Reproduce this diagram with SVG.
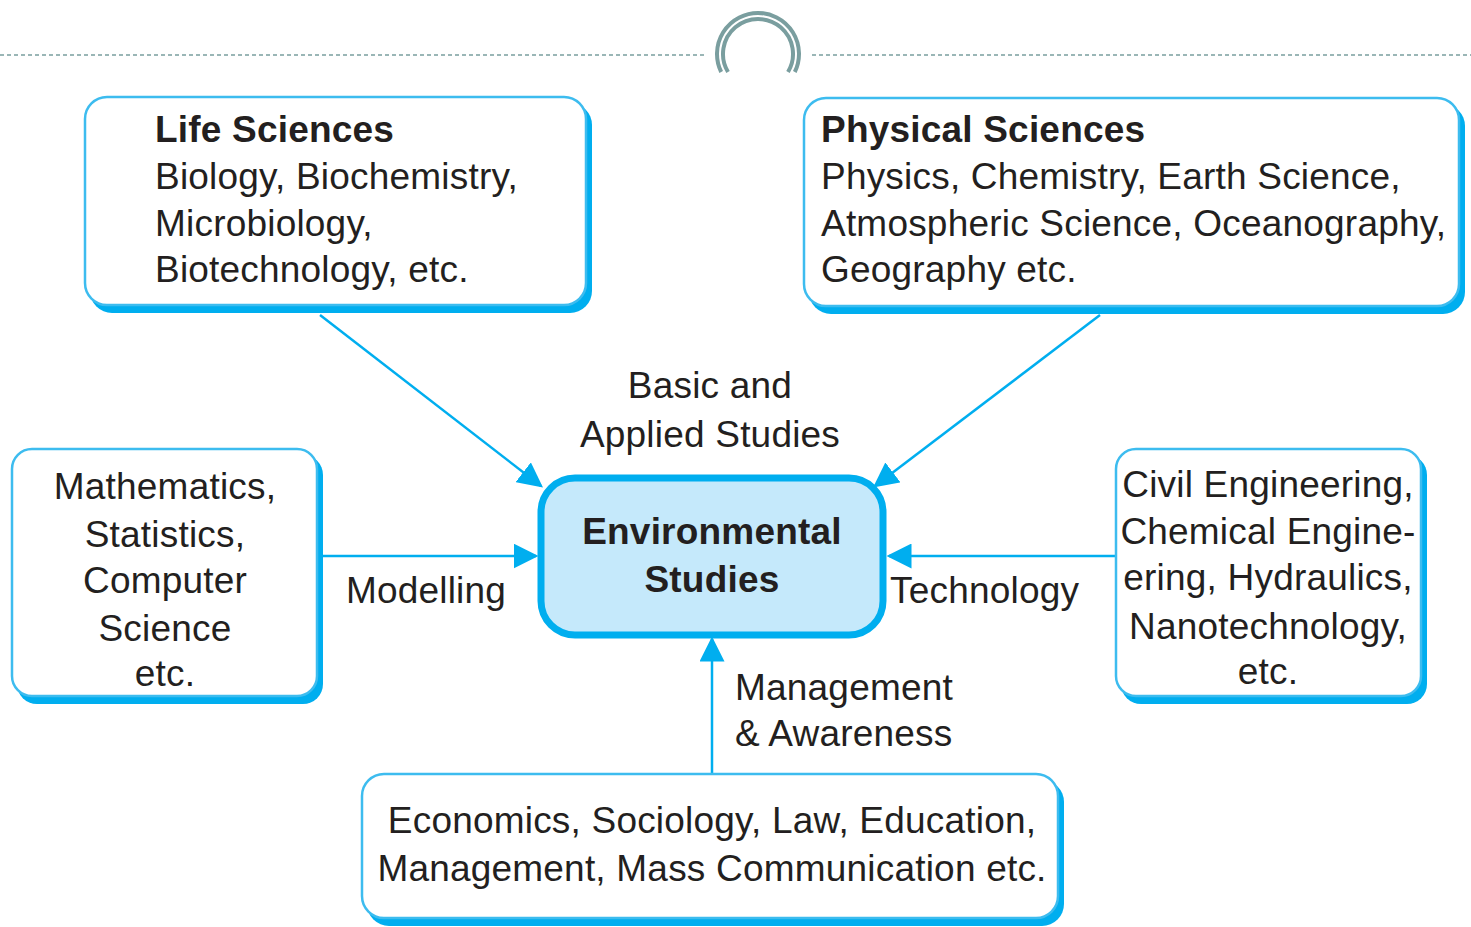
<svg xmlns="http://www.w3.org/2000/svg" width="1471" height="927" viewBox="0 0 1471 927">
<style>
.sh{fill:#00aeef}
.bx{fill:#ffffff;stroke:#3dbcef;stroke-width:2.5}
.t{font-family:"Liberation Sans",Arial,sans-serif;font-size:37px;letter-spacing:0.2px;fill:#231f20}
.b{font-weight:bold}
.m{text-anchor:middle}
.c{stroke:#00aeef;stroke-width:2.5;fill:none}
.deco{stroke:#7a9e9f;fill:none}
</style>
<defs>
<marker id="ah2" viewBox="0 0 10 10" refX="9" refY="5" markerWidth="10" markerHeight="10" orient="auto">
<path d="M0,0 L10,5 L0,10 Z" fill="#00aeef"/>
</marker>
</defs>
<g id="decoration">
<line class="deco" x1="0" y1="55" x2="706" y2="55" stroke-width="1.5" stroke-dasharray="4,3"/>
<line class="deco" x1="812" y1="55" x2="1471" y2="55" stroke-width="1.5" stroke-dasharray="4,3"/>
<path class="deco" stroke-width="4" d="M721.2,72 A41,41 0 1 1 794.8,72"/>
<path class="deco" stroke-width="4" d="M728,72 A35,35 0 1 1 788,72"/>
</g>
<g id="connectors">
<line class="c" x1="320" y1="315" x2="541" y2="486" marker-end="url(#ah2)"/>
<line class="c" x1="1100" y1="315" x2="875" y2="486" marker-end="url(#ah2)"/>
<line class="c" x1="323" y1="556" x2="536" y2="556" marker-end="url(#ah2)"/>
<line class="c" x1="1115" y1="556" x2="889" y2="556" marker-end="url(#ah2)"/>
<line class="c" x1="712" y1="774" x2="712" y2="639" marker-end="url(#ah2)"/>
</g>
<g id="labels">
<text class="t m" x="710" y="398">Basic and</text>
<text class="t m" x="710" y="447">Applied Studies</text>
<text class="t m" x="426" y="603">Modelling</text>
<text class="t" x="890" y="603">Technology</text>
<text class="t" x="735" y="700">Management</text>
<text class="t" x="735" y="746">&amp; Awareness</text>
</g>
<g id="life">
<rect class="sh" x="90" y="103" width="502" height="210" rx="22"/>
<rect class="bx" x="85" y="97" width="501" height="208" rx="22"/>
<text class="t b" x="155" y="142">Life Sciences</text>
<text class="t" x="155" y="189">Biology, Biochemistry,</text>
<text class="t" x="155" y="236">Microbiology,</text>
<text class="t" x="155" y="282">Biotechnology, etc.</text>
</g>
<g id="physical">
<rect class="sh" x="809" y="104" width="656" height="210" rx="22"/>
<rect class="bx" x="804" y="98" width="655" height="208" rx="22"/>
<text class="t b" x="821" y="142">Physical Sciences</text>
<text class="t" x="821" y="189">Physics, Chemistry, Earth Science,</text>
<text class="t" x="821" y="236">Atmospheric Science, Oceanography,</text>
<text class="t" x="821" y="282">Geography etc.</text>
</g>
<g id="math">
<rect class="sh" x="17" y="455" width="306" height="249" rx="20"/>
<rect class="bx" x="12" y="449" width="305" height="247" rx="20"/>
<text class="t m" x="165" y="499">Mathematics,</text>
<text class="t m" x="165" y="547">Statistics,</text>
<text class="t m" x="165" y="593">Computer</text>
<text class="t m" x="165" y="641">Science</text>
<text class="t m" x="165" y="686">etc.</text>
</g>
<g id="civil">
<rect class="sh" x="1121" y="455" width="306" height="249" rx="20"/>
<rect class="bx" x="1116" y="449" width="305" height="247" rx="20"/>
<text class="t m" x="1268" y="497">Civil Engineering,</text>
<text class="t m" x="1268" y="544">Chemical Engine-</text>
<text class="t m" x="1268" y="590">ering, Hydraulics,</text>
<text class="t m" x="1268" y="639">Nanotechnology,</text>
<text class="t m" x="1268" y="684">etc.</text>
</g>
<g id="social">
<rect class="sh" x="367" y="780" width="697" height="146" rx="22"/>
<rect class="bx" x="362" y="774" width="696" height="144" rx="22"/>
<text class="t m" x="712" y="833">Economics, Sociology, Law, Education,</text>
<text class="t m" x="712" y="881">Management, Mass Communication etc.</text>
</g>
<g id="env">
<rect x="541" y="478" width="342" height="157" rx="34" fill="#c5e9fb" stroke="#00aeef" stroke-width="7"/>
<text class="t b m" x="712" y="544">Environmental</text>
<text class="t b m" x="712" y="592">Studies</text>
</g>
</svg>
